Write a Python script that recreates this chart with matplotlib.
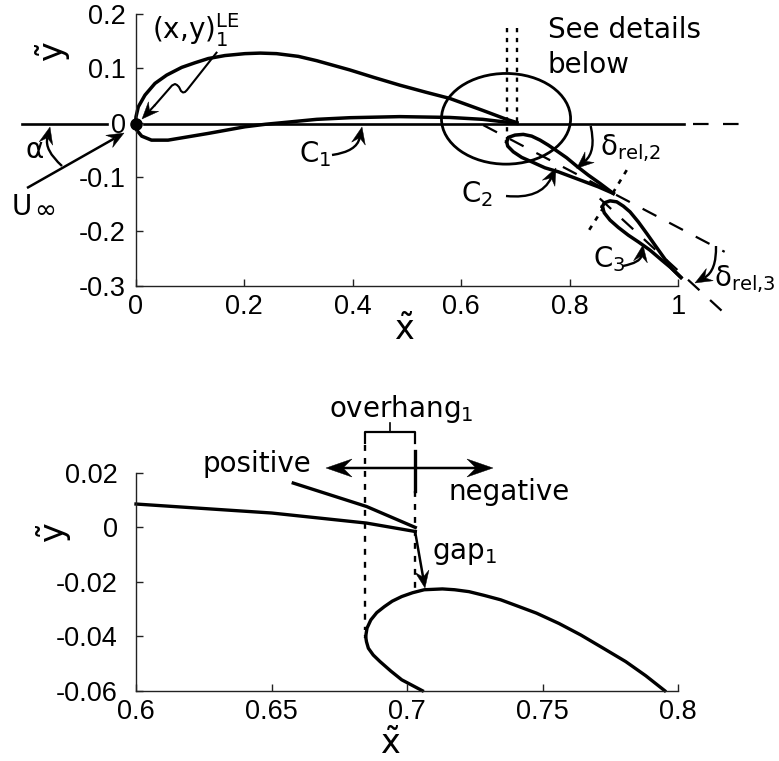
import numpy as np
import matplotlib
matplotlib.use('Agg')
import matplotlib.pyplot as plt
from matplotlib.patches import Ellipse, PathPatch, Polygon
from matplotlib.path import Path

plt.rcParams['font.family'] = ['DejaVu Sans']
plt.rcParams['mathtext.fontset'] = 'dejavusans'
plt.rcParams['axes.unicode_minus'] = False

W, H = 779, 761

# main element
c1_upper_x = [0, 0.0009, 0.0052, 0.0175, 0.0359, 0.0575, 0.0852, 0.1097, 0.1342, 0.165, 0.2018, 0.23, 0.26, 0.30, 0.334, 0.395, 0.44, 0.487, 0.535, 0.579, 0.64, 0.684, 0.703]
c1_upper_y = [-0.003, 0.0107, 0.0291, 0.0507, 0.0722, 0.0875, 0.1017, 0.1102, 0.118, 0.1235, 0.127, 0.128, 0.127, 0.122, 0.114, 0.097, 0.083, 0.069, 0.056, 0.0446, 0.0225, 0.006, 0.0]
c1_lower_x = [0, 0.0022, 0.0114, 0.0295, 0.06, 0.09, 0.1342, 0.2018, 0.24, 0.272, 0.334, 0.395, 0.487, 0.579, 0.64, 0.703]
c1_lower_y = [-0.003, -0.0138, -0.0249, -0.0323, -0.0323, -0.0273, -0.0199, -0.0077, -0.003, 0.0, 0.006, 0.009, 0.011, 0.0095, 0.006, -0.0015]

# flaps
c2_upper_x = [0.6842, 0.6872, 0.6995, 0.7148, 0.7303, 0.7456, 0.7609, 0.7764, 0.7948, 0.8132, 0.8346, 0.8562, 0.8807]
c2_upper_y = [-0.0354, -0.0273, -0.023, -0.0217, -0.0249, -0.0322, -0.0415, -0.052, -0.0648, -0.0801, -0.0967, -0.112, -0.1304]
c2_lower_x = [0.6842, 0.6861, 0.6964, 0.7119, 0.7303, 0.7548, 0.7793, 0.8041, 0.8286, 0.8531, 0.8807]
c2_lower_y = [-0.0354, -0.0433, -0.0538, -0.0641, -0.0722, -0.0833, -0.0906, -0.0999, -0.1091, -0.1183, -0.1304]
c3_upper_x = [0.8605, 0.8641, 0.8747, 0.887, 0.8992, 0.9115, 0.9268, 0.9423, 0.9576, 0.9729, 0.9884, 1.0055]
c3_upper_y = [-0.1551, -0.1478, -0.1441, -0.1459, -0.1538, -0.1643, -0.1828, -0.2041, -0.2257, -0.2472, -0.2686, -0.2852]
c3_lower_x = [0.8605, 0.8641, 0.8747, 0.89, 0.9084, 0.9268, 0.9484, 0.97, 0.9884, 1.0055]
c3_lower_y = [-0.1551, -0.1662, -0.1796, -0.1931, -0.2073, -0.2196, -0.2349, -0.2533, -0.2686, -0.2852]

# zoomed panel
zoom_main_upper_x = [0.658, 0.685, 0.703]
zoom_main_upper_y = [0.0163, 0.0077, 0.0]
zoom_main_lower_x = [0.6, 0.65, 0.685, 0.703]
zoom_main_lower_y = [0.0086, 0.0053, 0.0016, -0.0015]
zoom_flap_upper_x = [0.6847, 0.6852, 0.6866, 0.6888, 0.6916, 0.6945, 0.698, 0.702, 0.7063, 0.713, 0.7175, 0.7228, 0.7285, 0.7345, 0.741, 0.7477, 0.756, 0.764, 0.772, 0.7806, 0.788, 0.795]
zoom_flap_upper_y = [-0.0401, -0.037, -0.034, -0.0313, -0.0291, -0.0271, -0.0254, -0.024, -0.0229, -0.0226, -0.0229, -0.0236, -0.025, -0.0266, -0.029, -0.0315, -0.0353, -0.0395, -0.0442, -0.0493, -0.0545, -0.06]
zoom_flap_lower_x = [0.6847, 0.685, 0.6857, 0.6875, 0.69, 0.694, 0.698, 0.7056]
zoom_flap_lower_y = [-0.0401, -0.042, -0.0444, -0.0469, -0.0493, -0.0528, -0.056, -0.06]

top_xticks = [0, 0.2, 0.4, 0.6, 0.8, 1]
top_xlabels = ['0', '0.2', '0.4', '0.6', '0.8', '1']
top_yticks = [-0.3, -0.2, -0.1, 0, 0.1, 0.2]
top_ylabels = ['-0.3', '-0.2', '-0.1', '0', '0.1', '0.2']
bot_xticks = [0.6, 0.65, 0.7, 0.75, 0.8]
bot_xlabels = ['0.6', '0.65', '0.7', '0.75', '0.8']
bot_yticks = [-0.06, -0.04, -0.02, 0, 0.02]
bot_ylabels = ['-0.06', '-0.04', '-0.02', '0', '0.02']

DOTS = (0, (1.8, 2.4))
DASHES = (0, (7.0, 6.5))


def make_axes(fig, left, right, top, bottom):
    ax = fig.add_axes([left / W, (H - bottom) / H, (right - left) / W, (bottom - top) / H])
    ax.spines['top'].set_visible(False)
    ax.spines['right'].set_visible(False)
    for s in ('left', 'bottom'):
        ax.spines[s].set_linewidth(1.0)
        ax.spines[s].set_color('#222222')
    ax.patch.set_alpha(0)
    return ax


def set_ticks(ax, xt, xl, yt, yl, xpad, ypad):
    ax.set_xticks(xt)
    ax.set_xticklabels(xl, family='Liberation Sans', fontsize=19.5)
    ax.set_yticks(yt)
    ax.set_yticklabels(yl, family='Liberation Sans', fontsize=19.5)
    ax.tick_params(axis='x', direction='in', length=5, width=1.0, pad=xpad, color='#222222')
    ax.tick_params(axis='y', direction='in', length=5, width=1.0, pad=ypad, color='#222222')


def arrow(ov, start, end, rad=0.0, lw=1.7, length=17, half=7, notch=11):
    # curved shaft plus a notched head, all in image pixels
    sx, sy = start
    ex, ey = end
    dx, dy = ex - sx, ey - sy
    cx, cy = (sx + ex) / 2 - rad * dy, (sy + ey) / 2 + rad * dx
    tx, ty = ex - cx, ey - cy
    n = np.hypot(tx, ty)
    tx, ty = tx / n, ty / n
    px, py = -ty, tx
    shaft_end = (ex - tx * notch, ey - ty * notch)
    ov.add_patch(PathPatch(Path([start, (cx, cy), shaft_end], [Path.MOVETO, Path.CURVE3, Path.CURVE3]),
                           fill=False, ec='k', lw=lw, capstyle='butt'))
    head = [(ex, ey),
            (ex - tx * length + px * half, ey - ty * length + py * half),
            (ex - tx * notch, ey - ty * notch),
            (ex - tx * length - px * half, ey - ty * length - py * half)]
    ov.add_patch(Polygon(head, closed=True, fc='k', ec='k', lw=0.3))


fig = plt.figure(figsize=(W / 100, H / 100), dpi=100)

ax = make_axes(fig, 135.5, 678, 14, 285.5)
ax.set_xlim(0, 1)
ax.set_ylim(-0.3, 0.2)
set_ticks(ax, top_xticks, top_xlabels, top_yticks, top_ylabels, 6, 7)

for xs, ys in [(c1_upper_x, c1_upper_y), (c1_lower_x, c1_lower_y), (c2_upper_x, c2_upper_y),
               (c2_lower_x, c2_lower_y), (c3_upper_x, c3_upper_y), (c3_lower_x, c3_lower_y)]:
    ax.plot(xs, ys, color='k', lw=2.5, clip_on=False, solid_joinstyle='round')

# chord lines
ax.plot([0.016, 1.0105], [-0.003, -0.003], color='k', lw=1.9, clip_on=False)
ax.plot([1.027, 1.132], [-0.003, -0.003], color='k', lw=1.6, linestyle=DASHES, clip_on=False)
ax.plot([0.641, 1.086], [-0.0046, -0.238], color='k', lw=1.6, linestyle=DASHES, clip_on=False)
ax.plot([0.8557, 1.086], [-0.1397, -0.3515], color='k', lw=1.6, linestyle=DASHES, clip_on=False)
ax.plot([0], [-0.002], 'o', color='k', ms=8, clip_on=False, zorder=5)

# overlap markers
ax.add_patch(Ellipse((0.683, 0.007), 0.238, 0.167, fill=False, ec='k', lw=2.0, clip_on=False))
ax.plot([0.684, 0.684], [0.175, -0.03], color='k', lw=1.7, linestyle=DOTS, clip_on=False)
ax.plot([0.703, 0.703], [0.175, -0.003], color='k', lw=1.7, linestyle=DOTS, clip_on=False)
ax.plot([0.9055, 0.8797], [-0.0875, -0.1299], color='k', lw=1.9, linestyle=DOTS, clip_on=False)
ax.plot([0.8631, 0.8337], [-0.1557, -0.2017], color='k', lw=1.9, linestyle=DOTS, clip_on=False)

ax2 = make_axes(fig, 136, 678.3, 473, 690.7)
ax2.set_xlim(0.6, 0.8)
ax2.set_ylim(-0.06, 0.02)
set_ticks(ax2, bot_xticks, bot_xlabels, bot_yticks, bot_ylabels, 6, 13)
ax2.plot(zoom_main_upper_x, zoom_main_upper_y, color='k', lw=2.4, clip_on=False)
ax2.plot(zoom_main_lower_x, zoom_main_lower_y, color='k', lw=2.4, clip_on=False)
ax2.plot(zoom_flap_upper_x, zoom_flap_upper_y, color='k', lw=2.4, clip_on=False)
ax2.plot(zoom_flap_lower_x, zoom_flap_lower_y, color='k', lw=2.4, clip_on=False)

# annotations, placed in image pixels
ov = fig.add_axes([0, 0, 1, 1], zorder=10)
ov.set_xlim(0, W)
ov.set_ylim(H, 0)
ov.axis('off')


def label(x, y, s, size=20):
    ov.text(x, y, s, fontsize=size, ha='left', va='baseline', color='k')


label(152, 39, r'$\mathrm{(x{,}y)}_1^{\mathrm{LE}}$')
label(26, 158, 'α')
label(12, 215, 'U')
label(34, 218, '∞', 19)
label(299.5, 162, r'$\mathrm{C}_1$')
label(460.7, 202, r'$\mathrm{C}_2$')
label(593, 267, r'$\mathrm{C}_3$')
label(600, 155, r'$\mathrm{\delta}_{\mathrm{rel{,}2}}$')
label(714, 286, r'$\mathrm{\delta}_{\mathrm{rel{,}3}}$')
label(548, 38, 'See details')
label(548, 73, 'below')
label(203, 472, 'positive')
label(449, 500, 'negative')
label(432, 559, r'$\mathrm{gap}_1$')
label(329, 417, r'$\mathrm{overhang}_1$')

ov.text(404, 330, r'$\tilde{\mathrm{x}}$', fontsize=24, ha='center', va='center')
ov.text(53, 52, r'$\tilde{\mathrm{y}}$', fontsize=24, ha='center', va='center', rotation=90)
ov.text(390, 745, r'$\tilde{\mathrm{x}}$', fontsize=24, ha='center', va='center')
ov.text(54, 533, r'$\tilde{\mathrm{y}}$', fontsize=24, ha='center', va='center', rotation=90)

# horizontal line left of the profile
ov.plot([21.7, 106.7], [124, 124], color='k', lw=1.9)

# wavy leader to the leading edge
ov.plot([216.5, 187, 185, 183, 181, 179, 177, 175, 172, 155], [52.7, 90, 92, 92.5, 91, 87, 85, 84, 85.5, 105], color='k', lw=1.5)
arrow(ov, (155, 105), (142, 119), lw=1.5)

arrow(ov, (27, 188), (124, 133), lw=1.8)
arrow(ov, (62, 166), (50, 127), rad=-0.3)
arrow(ov, (332, 155), (362, 127), rad=0.35)
arrow(ov, (506, 196), (556, 168), rad=0.35)
arrow(ov, (623, 266), (643, 245), rad=0.35)
arrow(ov, (590.7, 126), (576.7, 168.3), rad=-0.3)
arrow(ov, (716, 246), (695, 283), rad=-0.3)

# overhang bracket and gap
ov.plot([365, 365, 415, 415], [443, 432, 432, 443], color='k', lw=1.6)
ov.plot([390, 390], [423, 432], color='k', lw=1.2)
ov.plot([365, 365], [445, 630], color='k', lw=1.7, linestyle=(0, (2.5, 3.0)))
ov.plot([415, 415], [491, 588], color='k', lw=1.7, linestyle=(0, (2.5, 3.0)))
ov.plot([415, 415], [451, 491], color='k', lw=2.4)
arrow(ov, (360, 468), (326, 468), lw=1.8, length=26, half=9, notch=17)
arrow(ov, (360, 468), (493, 468), lw=1.8, length=26, half=9, notch=17)
arrow(ov, (415, 531), (425, 588), lw=1.8)

fig.savefig('out.png', dpi=100)
